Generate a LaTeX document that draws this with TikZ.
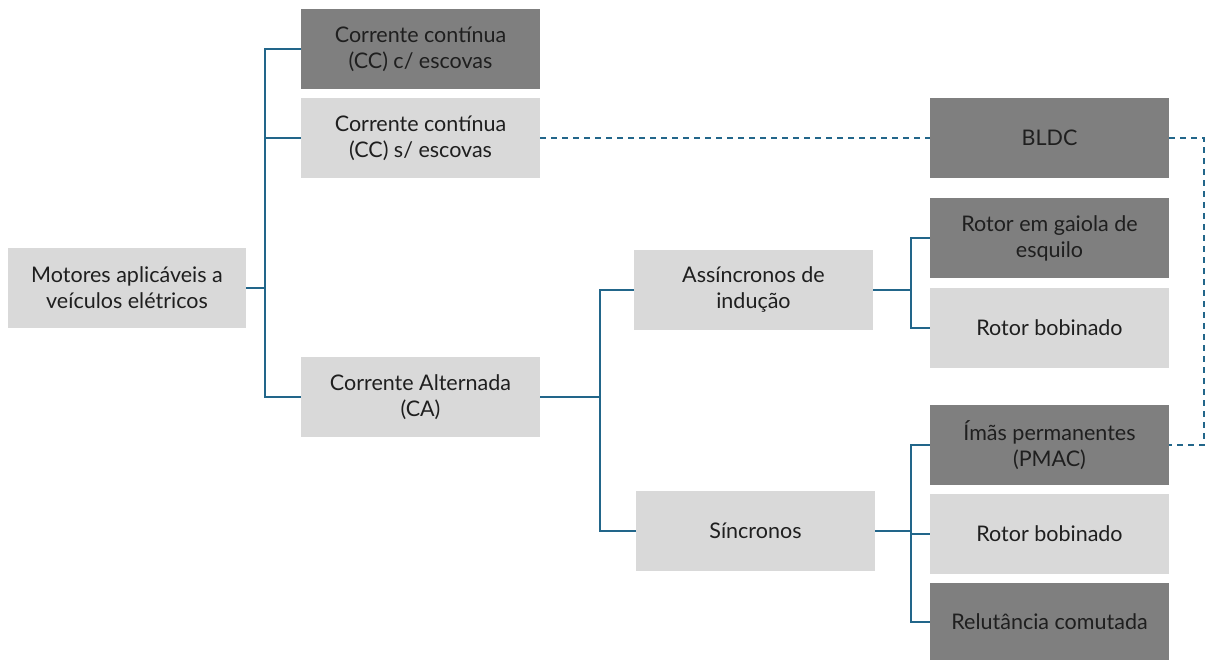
\documentclass[tikz,border=0pt]{standalone}
\usepackage{fontspec}
\setmainfont{Lato}
\definecolor{lnc}{HTML}{22668A}
\definecolor{dk}{HTML}{7F7F7F}
\definecolor{lt}{HTML}{D9D9D9}
\begin{document}
\begin{tikzpicture}[x=1pt,y=-1pt,
  box/.style={minimum width=239pt,minimum height=80pt,inner sep=0pt,align=center,
    font=\fontsize{21.5}{26}\selectfont,text=black!88},
  darkbox/.style={box,fill=dk},
  lightbox/.style={box,fill=lt},
  conn/.style={draw=lnc,line width=2pt},
  dconn/.style={conn,dash pattern=on 6pt off 5pt}]
\useasboundingbox (0,0) rectangle (1208,660);
\node[lightbox,minimum width=238pt] (root) at (127,288) {Motores aplicáveis a\\veículos elétricos};
\node[darkbox] (ccc) at (420.5,49) {Corrente contínua\\(CC) c/ escovas};
\node[lightbox] (ccs) at (420.5,138) {Corrente contínua\\(CC) s/ escovas};
\node[lightbox] (ca) at (420.5,397) {Corrente Alternada\\(CA)};
\node[lightbox] (asy) at (753.5,290) {Assíncronos de\\indução};
\node[lightbox] (syn) at (755.5,531) {Síncronos};
\node[darkbox] (bldc) at (1049.5,138) {BLDC};
\node[darkbox] (gai) at (1049.5,238) {Rotor em gaiola de\\esquilo};
\node[lightbox] (rb1) at (1049.5,328) {Rotor bobinado};
\node[darkbox] (ima) at (1049.5,445) {Ímãs permanentes\\(PMAC)};
\node[lightbox] (rb2) at (1049.5,534) {Rotor bobinado};
\node[darkbox,minimum height=78pt] (rel) at (1049.5,622) {Relutância comutada};
% root branches
\coordinate (j1) at (265,288);
\draw[conn] (root.east) -- (j1);
\draw[conn] (ccc.west) -| (j1);
\draw[conn] (ccs.west) -| (j1);
\draw[conn] (ca.west) -| (j1);
% CA branches
\coordinate (j2) at (600,397);
\draw[conn] (ca.east) -- (j2);
\draw[conn] (asy.west) -| (j2);
\draw[conn] (syn.west) -| (j2);
% Asy branches
\coordinate (j3) at (911,290);
\draw[conn] (asy.east) -- (j3);
\draw[conn] (gai.west) -| (j3);
\draw[conn] (rb1.west) -| (j3);
% Syn branches
\coordinate (j4) at (911,531);
\draw[conn] (syn.east) -- (j4);
\draw[conn] (ima.west) -| (j4);
\draw[conn] (rb2.west) -| (j4);
\draw[conn] (rel.west) -| (j4);
% dashed
\draw[dconn] (ccs.east) -- (bldc.west);
\coordinate (d1) at (1204,138);
\draw[dconn] (bldc.east) -- (d1) |- (ima.east);
\end{tikzpicture}
\end{document}
